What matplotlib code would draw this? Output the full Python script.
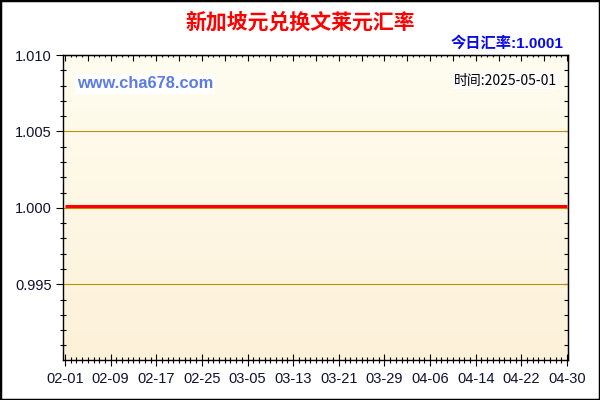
import numpy as np
import pandas as pd
import matplotlib
matplotlib.use("Agg")
import matplotlib.pyplot as plt
import matplotlib.dates as mdates
from matplotlib.ticker import MultipleLocator
from matplotlib.patches import Rectangle

plt.rcParams['font.family'] = ['Liberation Sans', 'Noto Sans CJK SC', 'DejaVu Sans']

# data: SGD -> BND daily rate, 2025-02-01 .. 2025-04-30
START = "2025-02-01"
END = "2025-04-30"
rates = [
    1.0001, 1.0001, 1.0001, 1.0001, 1.0001, 1.0001, 1.0001, 1.0001, 1.0001, 1.0001,
    1.0001, 1.0001, 1.0001, 1.0001, 1.0001, 1.0001, 1.0001, 1.0001, 1.0001, 1.0001,
    1.0001, 1.0001, 1.0001, 1.0001, 1.0001, 1.0001, 1.0001, 1.0001, 1.0001, 1.0001,
    1.0001, 1.0001, 1.0001, 1.0001, 1.0001, 1.0001, 1.0001, 1.0001, 1.0001, 1.0001,
    1.0001, 1.0001, 1.0001, 1.0001, 1.0001, 1.0001, 1.0001, 1.0001, 1.0001, 1.0001,
    1.0001, 1.0001, 1.0001, 1.0001, 1.0001, 1.0001, 1.0001, 1.0001, 1.0001, 1.0001,
    1.0001, 1.0001, 1.0001, 1.0001, 1.0001, 1.0001, 1.0001, 1.0001, 1.0001, 1.0001,
    1.0001, 1.0001, 1.0001, 1.0001, 1.0001, 1.0001, 1.0001, 1.0001, 1.0001, 1.0001,
    1.0001, 1.0001, 1.0001, 1.0001, 1.0001, 1.0001, 1.0001, 1.0001, 1.0001,
]
dates = pd.date_range(START, END, freq="D")

tick_labels = ["02-01", "02-09", "02-17", "02-25", "03-05", "03-13",
               "03-21", "03-29", "04-06", "04-14", "04-22", "04-30"]
y_ticks = [0.995, 1.000, 1.005, 1.010]
y_labels = ["0.995", "1.000", "1.005", "1.010"]

TITLE = "新加坡元兑换文莱元汇率"
TODAY = "今日汇率:1.0001"
STAMP = "时间:2025-05-01"
SITE = "www.cha678.com"

W, H = 600, 400
fig = plt.figure(figsize=(6, 4), dpi=100)
fig.patch.set_facecolor("white")

rect = [63 / W, 1 - 360 / H, (568 - 63) / W, (360 - 55) / H]

# gradient background behind the plot
bg = fig.add_axes(rect, zorder=0)
top = np.array([255, 253, 240]) / 255
bot = np.array([253, 241, 217]) / 255
t = np.linspace(0, 1, 256)[:, None]
grad = (top * (1 - t) + bot * t)[:, None, :]
bg.imshow(grad, aspect="auto", extent=[0, 1, 0, 1])
bg.axis("off")

ax = fig.add_axes(rect, zorder=1)
ax.set_facecolor("none")

tick_dates = pd.to_datetime(["2025-" + s for s in tick_labels])
x0 = mdates.date2num(pd.Timestamp(START))
x1 = mdates.date2num(pd.Timestamp(END))

for y in y_ticks:
    ax.axhline(y, color="#C08C00", lw=0.8, zorder=1)

ax.plot(dates, rates, color="#FF0000", lw=2.2, solid_capstyle="butt", zorder=3)

ax.set_xlim(x0 - 0.35, x1 + 0.18)
ax.set_ylim(0.99005, 1.010)

ax.set_xticks(tick_dates)
ax.set_xticklabels(tick_labels)
ax.xaxis.set_minor_locator(mdates.DayLocator())
ax.set_yticks(y_ticks)
ax.set_yticklabels(y_labels)
ax.yaxis.set_minor_locator(MultipleLocator(0.001))

ax.tick_params(axis="x", which="major", direction="inout", length=9, width=0.8,
               labelsize=10.5, labelcolor="#101030", pad=4)
ax.tick_params(axis="x", which="minor", direction="inout", length=5, width=0.8)
ax.tick_params(axis="y", which="major", direction="out", length=5, width=0.8,
               labelsize=10.5, labelcolor="#101030", pad=3)
ax.tick_params(axis="y", which="minor", direction="inout", length=5, width=0.8)

for s in ax.spines.values():
    s.set_color("black")
    s.set_linewidth(1)

# ticks along top and right edges, pointing inward
axr = ax.secondary_yaxis("right")
axr.set_yticks(y_ticks)
axr.yaxis.set_minor_locator(MultipleLocator(0.001))
axr.tick_params(which="both", direction="in", length=3, width=0.8, labelright=False)
axt = ax.secondary_xaxis("top")
axt.set_xticks(mdates.date2num(pd.date_range(START, END, freq="4D")))
axt.xaxis.set_minor_locator(mdates.DayLocator())
axt.tick_params(which="major", direction="in", length=4, width=0.8, labeltop=False)
axt.tick_params(which="minor", direction="in", length=1.5, width=0.8)

fig.text(300 / W, 1 - 22 / H, TITLE, ha="center", va="center", color="#FF0000",
         fontsize=15, fontweight="bold", family=["Noto Sans CJK SC"])
fig.text(563 / W, 1 - 43 / H, TODAY, ha="right", va="center", color="#0A0AE6",
         fontsize=11, fontweight="bold",
         family=["Liberation Sans", "Noto Sans CJK SC"])
fig.text(557 / W, 1 - 81 / H, STAMP, ha="right", va="center", color="black",
         fontsize=10, family=["Noto Sans CJK SC"], zorder=5,
         bbox=dict(facecolor="white", edgecolor="none", pad=1))
fig.text(77 / W, 1 - 84 / H, SITE, ha="left", va="center", color="#5A7BE8",
         fontsize=11.8, fontweight="bold", family=["Liberation Sans"], zorder=5,
         bbox=dict(facecolor="white", edgecolor="none", pad=1.5))

fig.patches.append(Rectangle((0, 0), 1, 1, transform=fig.transFigure, fill=False,
                             edgecolor="black", lw=2.5))

fig.savefig("out.png", dpi=100)
